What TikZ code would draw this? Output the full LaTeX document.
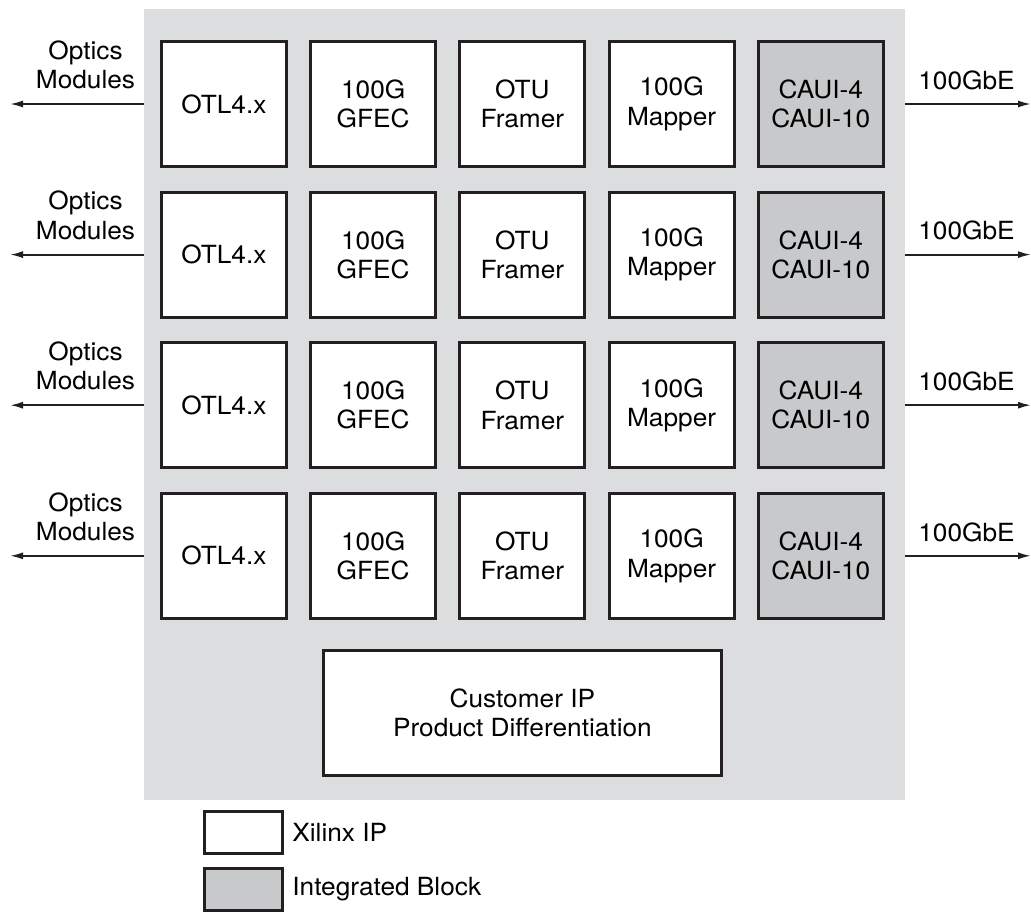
\documentclass[tikz,border=0pt]{standalone}
\usepackage{fontspec}
\setmainfont{TeX Gyre Heros}[FakeStretch=1.05]
\usetikzlibrary{arrows.meta, positioning, fit, backgrounds}

\definecolor{chipgray}{HTML}{DCDDDF}
\definecolor{intgray}{HTML}{C8C9CB}
\definecolor{linecol}{HTML}{231F20}

\begin{document}
\begin{tikzpicture}[
  node distance=11.3pt and 10.6pt,
  font=\fontsize{12.5pt}{14.65pt}\selectfont,
  blk/.style={draw=linecol, line width=1.5pt, fill=white, minimum size=62.5pt, align=center, inner sep=0pt},
  intg/.style={blk, fill=intgray},
  lbl/.style={align=center, inner sep=0pt},
  arrow/.style={-{Latex[length=6.5pt, width=3.5pt]}, line width=0.9pt, color=linecol}
]
  \useasboundingbox (0,0) rectangle (515.5pt,-455.5pt);

  % four 100G lines
  \foreach \r in {1,...,4} {
    \pgfmathsetmacro{\ry}{-52-(\r-1)*75.3}
    \node[blk] (otl\r) at (112pt,\ry pt) {OTL4.x};
    \node[blk, right=of otl\r] (fec\r) {100G\\GFEC};
    \node[blk, right=of fec\r] (otu\r) {OTU\\Framer};
    \node[blk, right=of otu\r] (map\r) {100G\\Mapper};
    \node[intg, right=of map\r] (caui\r) {CAUI-4\\CAUI-10};
  }

  \node[blk, minimum width=199pt, below=14.5pt of otu4] (cust) {Customer IP\\Product Differentiation};

  % device background
  \coordinate (chipnw) at (72pt,-4.5pt);
  \coordinate (chipse) at (452.5pt,-400pt);
  \begin{scope}[on background layer]
    \node[fit=(chipnw)(chipse), inner sep=0pt, fill=chipgray] (chip) {};
  \end{scope}

  % optics and ethernet sides
  \foreach \r in {1,...,4} {
    \pgfmathsetmacro{\ry}{-52-(\r-1)*75.3}
    \coordinate (optend\r) at (5pt,\ry pt);
    \coordinate (ethend\r) at (515.5pt,\ry pt);
    \draw[arrow] (otl\r -| chip.west) -- (optend\r);
    \draw[arrow] (caui\r -| chip.east) -- (ethend\r);
    \node[lbl, anchor=south] (optlbl\r) at (42.75pt,\ry pt+7.35pt) {Optics\\Modules};
    \node[lbl, anchor=base] (ethlbl\r) at (483.25pt,\ry pt+7.35pt) {100GbE};
  }

  % legend
  \node[blk, minimum width=39pt, minimum height=21pt] (legx) at (121.75pt,-416.25pt) {};
  \node[intg, minimum width=39pt, minimum height=21pt] (legi) at (121.75pt,-444.75pt) {};
  \node[lbl, right=4pt of legx] (legxt) {Xilinx IP};
  \node[lbl, right=4pt of legi] (legit) {Integrated Block};
\end{tikzpicture}
\end{document}
